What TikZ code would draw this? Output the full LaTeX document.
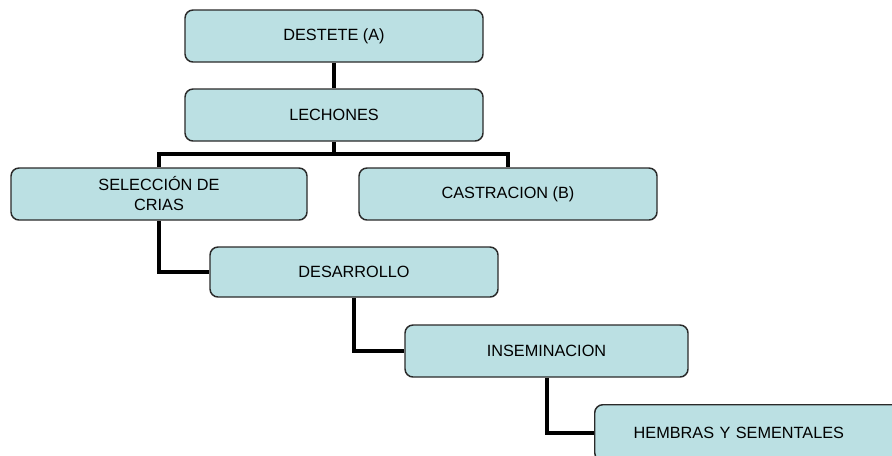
\documentclass[tikz,border=0pt]{standalone}
\usepackage{fontspec}
\setmainfont{Liberation Sans}
\usetikzlibrary{backgrounds}
\definecolor{boxfill}{HTML}{BBE0E3}
\definecolor{boxline}{HTML}{2A2A2A}
\tikzset{
  stage/.style={draw=boxline, line width=1.1pt, fill=boxfill, rounded corners=6pt,
    minimum width=223.5pt, minimum height=39pt, inner sep=2pt, align=center,
    font=\fontsize{12.2}{15}\selectfont},
  link/.style={draw=black, line width=3pt, line join=miter}
}
\begin{document}
\begin{tikzpicture}[x=0.75pt, y=-0.75pt]
  \useasboundingbox (0,0) rectangle (892,455);
  \clip (0,0) rectangle (892,455);

  % boxes of the flow
  \node[stage] (dest) at (334,36)  {DESTETE (A)};
  \node[stage] (lech) at (334,115) {LECHONES};
  \node[stage, minimum width=222pt] (sel) at (159,194) {SELECCIÓN DE\\CRIAS};
  \node[stage] (cast) at (508,194) {CASTRACION (B)};
  \node[stage, minimum width=216pt, minimum height=37.5pt] (des) at (354,272) {DESARROLLO};
  \node[stage, minimum width=212.25pt] (ins) at (546.5,351) {INSEMINACION};
  \node[stage, anchor=north west, minimum width=0pt, minimum height=42pt,
        text width=207.75pt, align=left, inner xsep=29.25pt] (hem) at (594,404)
        {HEMBRAS Y SEMENTALES};

  % connectors, behind the boxes
  \begin{scope}[on background layer]
    \coordinate (bar) at (334,154);
    \path[link] (dest.south) -- (lech.north);
    \path[link] (lech.south) -- (bar);
    \path[link] (sel.north) |- (bar) -| (cast.north);
    \path[link] (sel.south) |- (des.west);
    \path[link] (des.south) |- (ins.west);
    \path[link] (ins.south) |- (hem.west);
  \end{scope}
\end{tikzpicture}
\end{document}
